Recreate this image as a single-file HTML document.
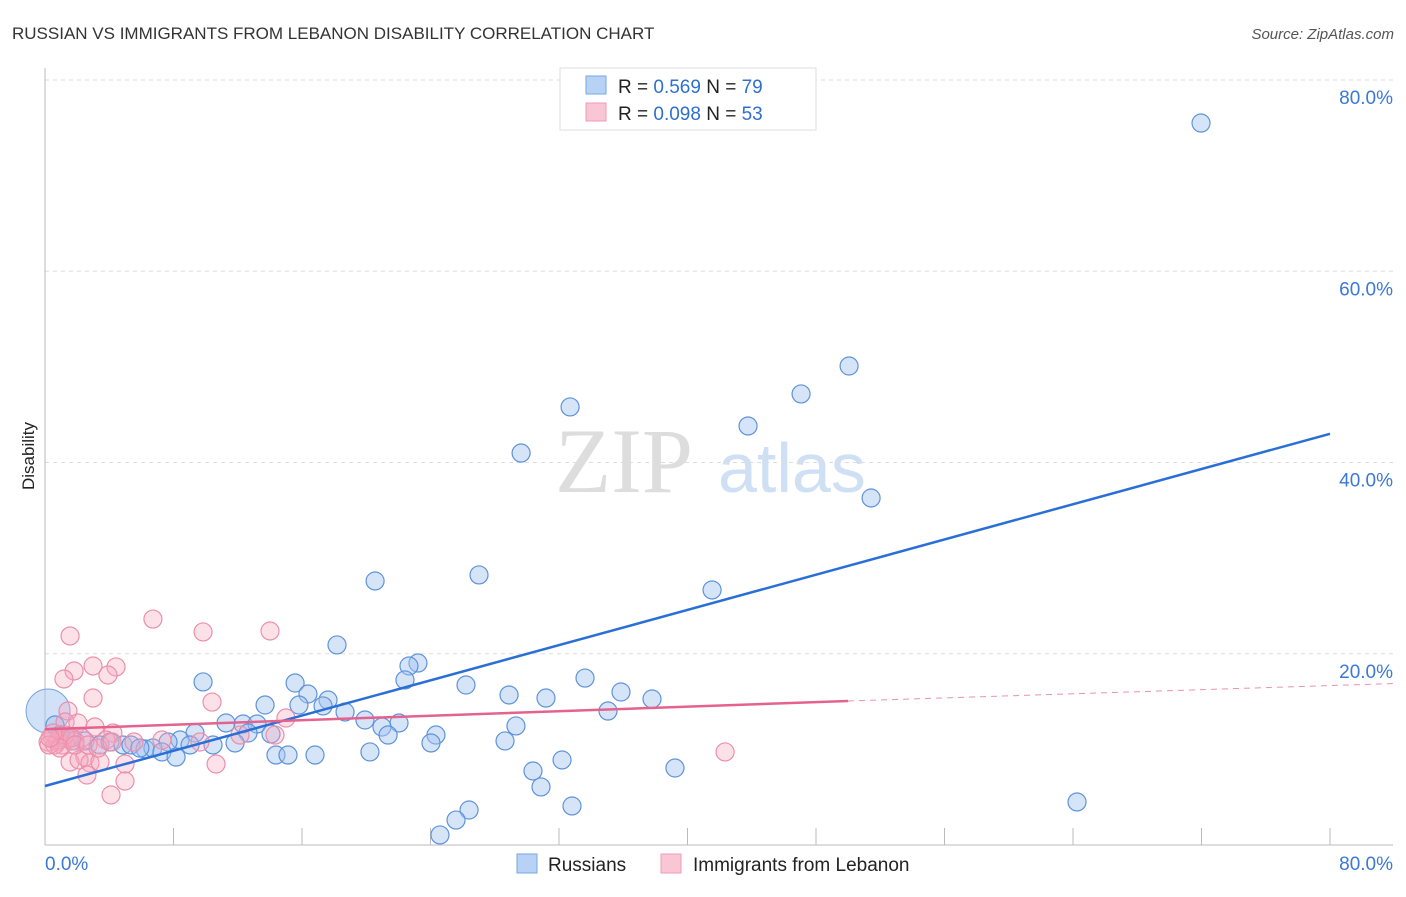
<!DOCTYPE html>
<html><head><meta charset="utf-8"><style>
body{margin:0;background:#fff;font-family:"Liberation Sans",sans-serif;}
svg text{font-family:"Liberation Sans",sans-serif;}
</style></head><body>
<svg width="1406" height="892" viewBox="0 0 1406 892">
<text x="12" y="39" font-size="17" fill="#333">RUSSIAN VS IMMIGRANTS FROM LEBANON DISABILITY CORRELATION CHART</text>
<text x="1394" y="39" font-size="15" fill="#555" font-style="italic" text-anchor="end">Source: ZipAtlas.com</text>
<text x="34" y="456" font-size="17" fill="#222" transform="rotate(-90 34 456)" text-anchor="middle">Disability</text>
<text x="555" y="492" font-size="92" fill="#ddd" font-family="Liberation Serif" style="font-family:'Liberation Serif',serif">ZIP</text>
<text x="718" y="492" font-size="70" fill="#cfe0f5">atlas</text>
<g id="grid"></g><g id="axes"></g><g id="pts"></g><g id="lines"></g>
<g>
<rect x="560" y="68" width="256" height="62" fill="#fff" stroke="#ddd"/>
<rect x="586" y="76" width="20" height="18" fill="#b8d2f5" stroke="#7aa6e6"/>
<rect x="586" y="103" width="20" height="18" fill="#f9c6d5" stroke="#ef9cb6"/>
<text x="618" y="93" font-size="19" fill="#222">R = <tspan fill="#2f6fd0">0.569</tspan>   N = <tspan fill="#2f6fd0">79</tspan></text>
<text x="618" y="120" font-size="19" fill="#222">R = <tspan fill="#2f6fd0">0.098</tspan>   N = <tspan fill="#2f6fd0">53</tspan></text>
</g>
<g>
<rect x="517" y="854" width="20" height="19" fill="#b8d2f5" stroke="#7aa6e6"/>
<text x="548" y="871" font-size="19" fill="#222">Russians</text>
<rect x="661" y="854" width="20" height="19" fill="#f9c6d5" stroke="#ef9cb6"/>
<text x="693" y="871" font-size="19" fill="#222">Immigrants from Lebanon</text>
</g>
</svg>
<script>
const yTicks=[20,40,60,80];
const yTickLabels=["20.0%","40.0%","60.0%","80.0%"];
const xTickLabels=["0.0%","80.0%"];
const russiansX=[71.97,50.06,47.07,32.69,43.77,29.64,51.43,20.55,27.02,41.53,18.18,23.22,22.66,9.84,15.57,26.21,22.41,28.89,31.19,33.62,35.86,37.79,16.37,17.62,13.70,15.81,17.31,18.68,35.05,19.92,11.27,12.33,13.20,22.04,29.32,20.98,24.34,21.36,14.07,12.64,9.34,8.41,7.66,0.62,1.06,1.68,2.49,3.42,4.05,4.86,5.35,6.23,6.72,7.28,8.16,9.03,10.46,11.83,14.38,15.13,16.81,20.23,24.03,28.64,32.19,30.38,30.88,39.22,32.81,64.25,26.40,25.59,24.59,1.56,0.93,5.91];
const russiansY=[75.5,50.09,47.17,45.81,43.82,40.99,36.29,27.61,28.24,26.67,20.92,19.03,18.72,17.05,16.94,16.73,17.26,15.69,15.37,17.46,16.0,15.27,15.79,15.16,14.64,14.64,14.54,13.91,14.01,13.07,12.76,12.65,12.65,12.76,12.45,12.34,11.5,11.5,11.61,11.71,11.71,10.98,10.77,12.55,11.19,10.88,10.88,10.46,10.77,10.46,10.46,10.04,10.14,9.73,9.2,10.46,10.46,10.67,9.41,9.41,9.41,9.73,10.67,10.88,8.89,7.74,6.07,8.05,4.08,4.5,3.66,2.61,1.05,11.29,11.5,10.14];
const lebanonX=[6.72,1.56,9.84,14.01,2.99,4.42,1.81,3.92,1.18,2.99,10.40,1.43,15.0,1.25,2.05,4.23,3.11,0.44,0.75,1.06,1.37,1.87,2.30,3.80,5.54,7.28,9.65,14.32,12.14,2.49,1.56,2.12,2.80,3.42,4.98,2.61,10.65,4.98,4.11,42.34,0.19,0.62,0.81,1.25,1.68,0.50,0.25,0.93,1.87,2.68,3.30,4.17,0.31];
const lebanonY=[23.63,21.86,22.28,22.38,18.72,18.62,18.2,17.78,17.36,15.37,14.95,14.01,13.28,12.86,12.76,11.71,12.34,11.29,10.77,10.46,11.09,10.88,11.19,10.98,10.77,10.98,10.77,11.5,11.5,9.2,8.68,8.89,8.58,8.68,8.47,7.32,8.47,6.69,5.23,9.73,10.77,10.46,10.98,11.5,11.19,11.71,10.46,10.14,10.46,10.46,10.14,10.77,11.19];
const bigRussian=[0.19,14.01];
const russiansTrend=[[0,6.17],[80,43.0]];
const lebanonTrend=[[0,12.1],[50,15.06],[84.2,16.9]];
const X=v=>45+v/80*1285, Y=v=>845-v/80*765;
const NS="http://www.w3.org/2000/svg";
function mk(p,t,a){const e=document.createElementNS(NS,t);for(const k in a)e.setAttribute(k,a[k]);p.appendChild(e);return e;}
const grid=document.getElementById('grid'),axes=document.getElementById('axes'),pts=document.getElementById('pts'),lines=document.getElementById('lines');
yTicks.forEach((t,i)=>{
 const l=mk(grid,'line',{x1:45,x2:1393,y1:Y(t),y2:Y(t),stroke:'#ddd','stroke-dasharray':'4,4'});
 
 
 const tx=mk(grid,'text',{x:1393,y:Y(t)+24,'font-size':19,fill:'#3b78d8','text-anchor':'end'});
 tx.textContent=yTickLabels[i];
 
 
});
const al=mk(axes,'line',{x1:45,x2:45,y1:68,y2:845,stroke:'#bbb'});


const bl=mk(axes,'line',{x1:45,x2:1393,y1:845,y2:845,stroke:'#bbb'});


for(let v=0;v<=80;v+=8){
 const t=mk(axes,'line',{x1:X(v),x2:X(v),y1:828,y2:845,stroke:'#bbb'});
 
 
}
[[0,'start',45],[80,'end',1393]].forEach((d,i)=>{
 const t=mk(axes,'text',{x:d[2],y:870,'font-size':19,fill:'#3b78d8','text-anchor':d[1]});
 t.textContent=xTickLabels[i];
 
 
});
const bg=mk(pts,'circle',{cx:X(bigRussian[0]),cy:Y(bigRussian[1]),r:22,fill:'rgba(164,196,240,0.5)',stroke:'#7aa6e6'});


russiansX.forEach((x,i)=>{
 const c=mk(pts,'circle',{cx:X(x),cy:Y(russiansY[i]),r:9,fill:'rgba(164,196,240,0.45)',stroke:'#5e93dc','stroke-width':1.2});
 
 
});
lebanonX.forEach((x,i)=>{
 const c=mk(pts,'circle',{cx:X(x),cy:Y(lebanonY[i]),r:9,fill:'rgba(245,170,192,0.35)',stroke:'#ec8fab','stroke-width':1.2});
 
 
});
const rl=mk(lines,'line',{x1:X(russiansTrend[0][0]),y1:Y(russiansTrend[0][1]),x2:X(russiansTrend[1][0]),y2:Y(russiansTrend[1][1]),stroke:'#2a6fd6','stroke-width':2.5});


const pl=mk(lines,'line',{x1:X(lebanonTrend[0][0]),y1:Y(lebanonTrend[0][1]),x2:X(lebanonTrend[1][0]),y2:Y(lebanonTrend[1][1]),stroke:'#e5628e','stroke-width':2.5});


const pd=mk(lines,'line',{x1:X(lebanonTrend[1][0]),y1:Y(lebanonTrend[1][1]),x2:X(lebanonTrend[2][0]),y2:Y(lebanonTrend[2][1]),stroke:'#e5628e','stroke-width':1,'stroke-dasharray':'6,5','opacity':0.7});


</script>
</body></html>
